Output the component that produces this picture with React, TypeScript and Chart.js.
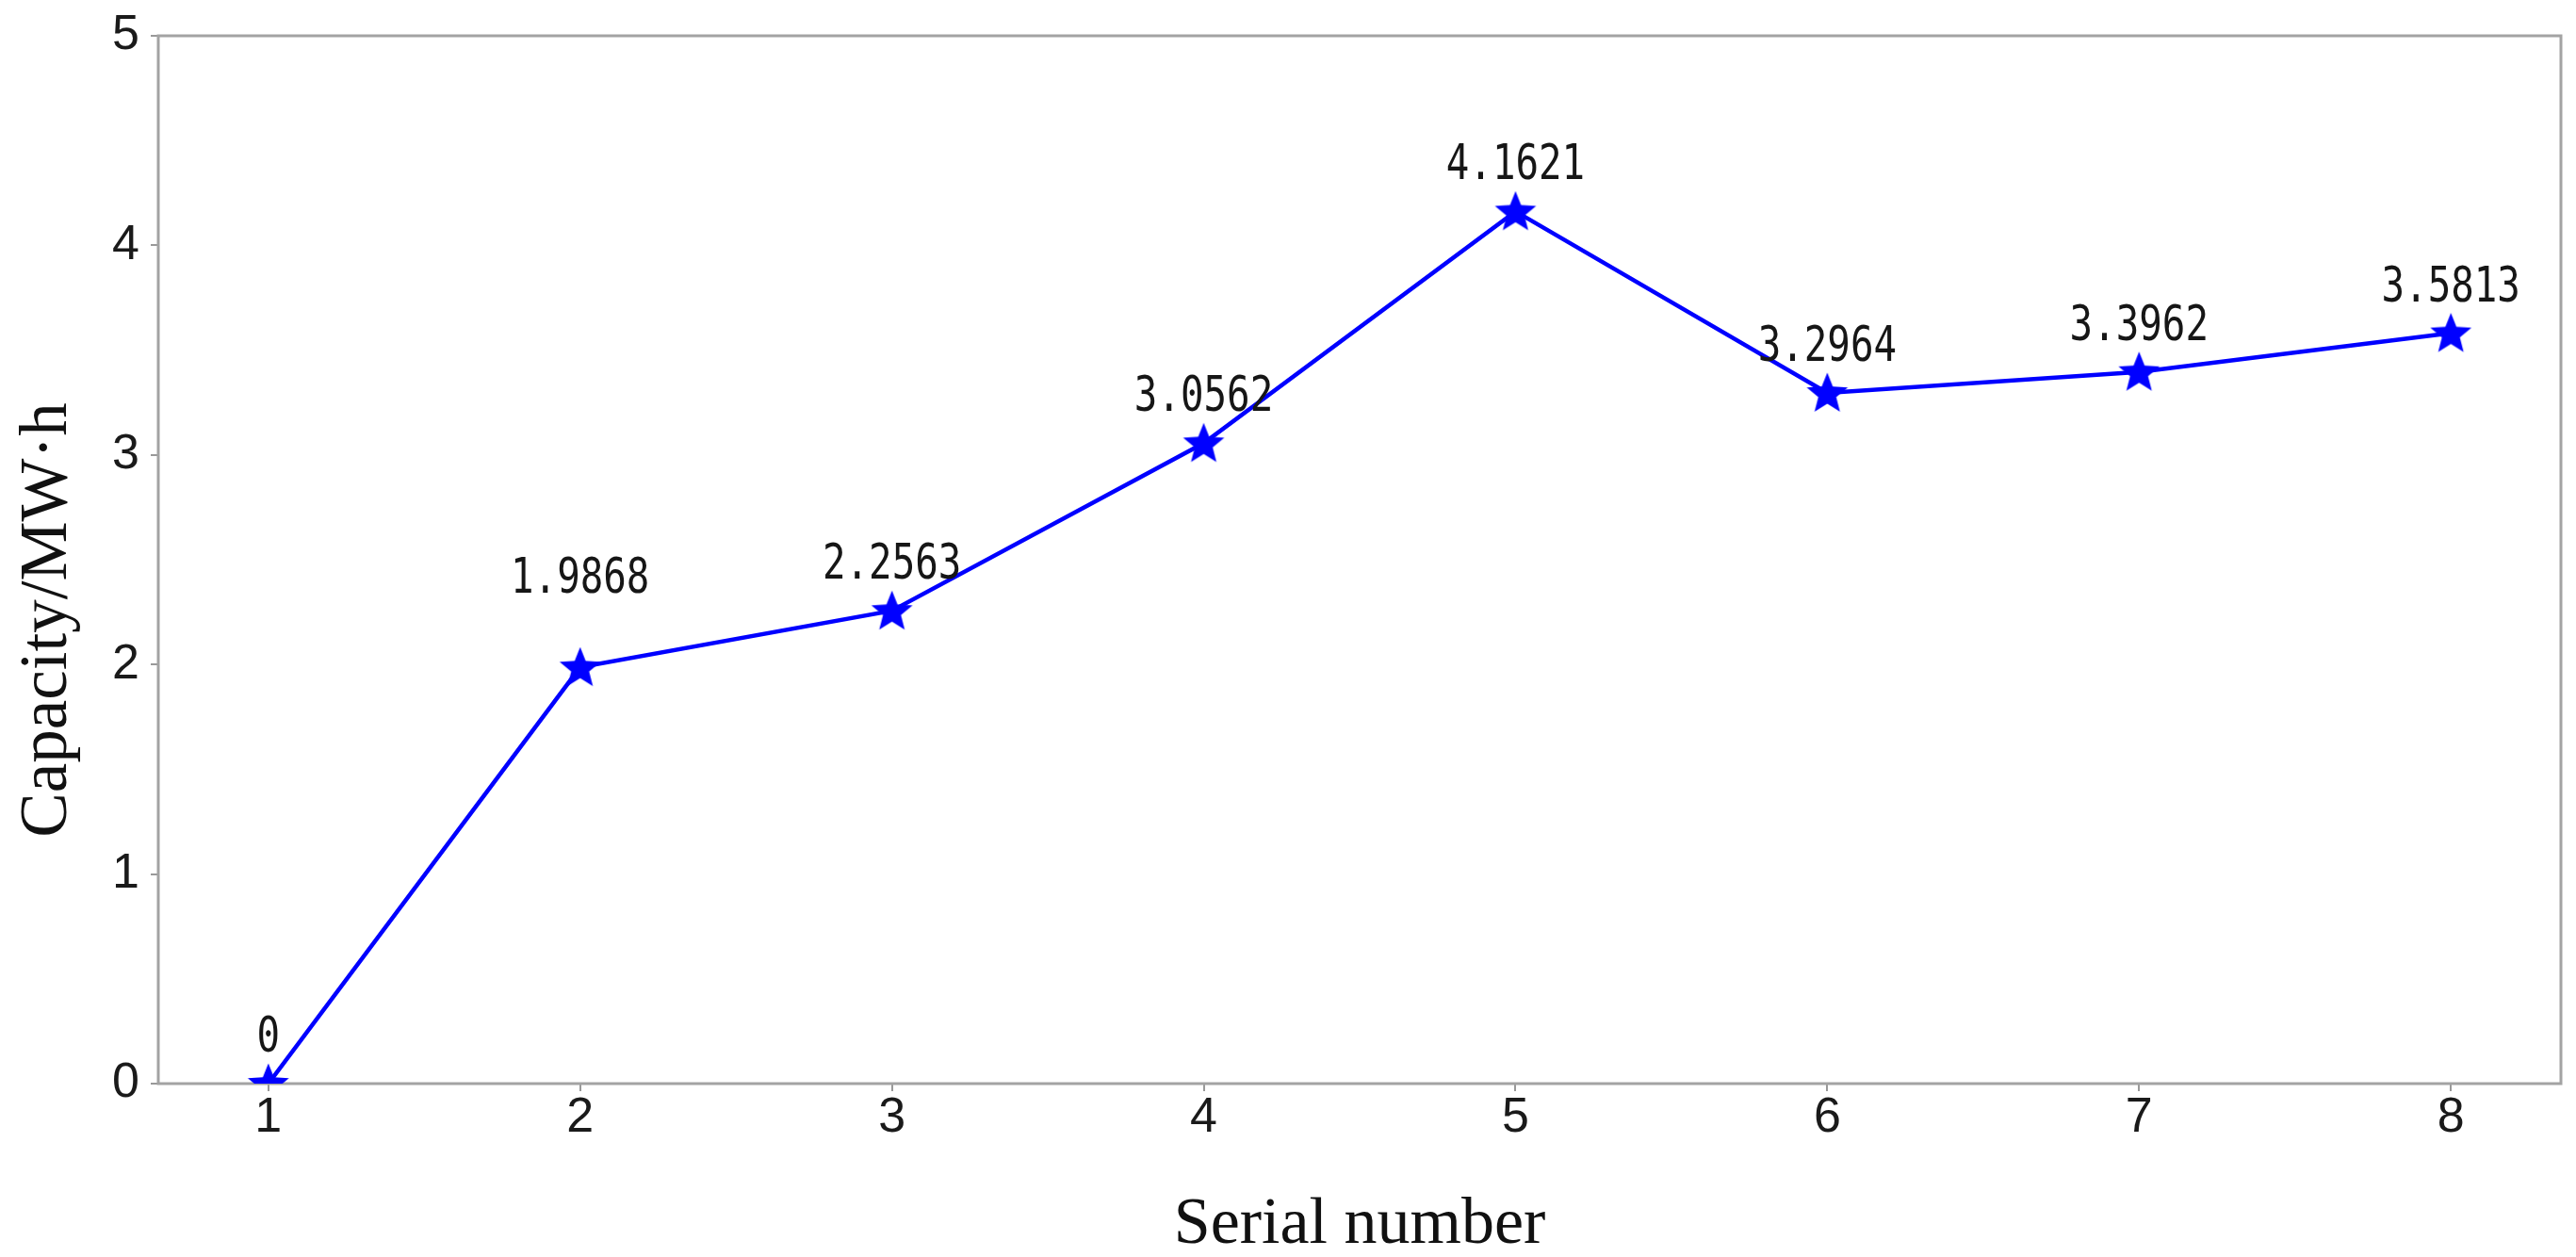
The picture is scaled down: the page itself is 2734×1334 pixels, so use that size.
import React, { useEffect, useRef } from 'react';
import { Chart, registerables } from 'chart.js';

Chart.register(...registerables);

const serialNumbers = [1, 2, 3, 4, 5, 6, 7, 8];
const capacities = [0, 1.9868, 2.2563, 3.0562, 4.1621, 3.2964, 3.3962, 3.5813];
const yTickValues = [0, 1, 2, 3, 4, 5];
const xTitle = 'Serial number';
const yTitle = 'Capacity/MW·h';

function makeStar(R: number, r: number, color: string) {
  const size = Math.ceil(2 * R + 4);
  const c = document.createElement('canvas');
  c.width = size;
  c.height = size;
  const ctx = c.getContext('2d')!;
  ctx.translate(size / 2, size / 2 + R * 0.06);
  ctx.beginPath();
  for (let i = 0; i < 10; i++) {
    const rad = i % 2 === 0 ? R : r;
    const a = -Math.PI / 2 + (i * Math.PI) / 5;
    ctx.lineTo(rad * Math.cos(a), rad * Math.sin(a));
  }
  ctx.closePath();
  ctx.fillStyle = color;
  ctx.fill();
  return c;
}

// extra upward shift (px) of individual value labels, as placed in the original figure
const labelLift: Record<number, number> = { 1: 45 };

const decorPlugin = {
  id: 'decor',
  beforeDatasetsDraw(chart: any) {
    const { ctx, chartArea } = chart;
    ctx.save();
    ctx.strokeStyle = '#a3a3a3';
    ctx.lineWidth = 3;
    ctx.strokeRect(chartArea.left, chartArea.top, chartArea.right - chartArea.left, chartArea.bottom - chartArea.top);
    ctx.restore();
  },
  afterDatasetsDraw(chart: any) {
    const { ctx } = chart;
    const meta = chart.getDatasetMeta(0);
    ctx.save();
    ctx.fillStyle = '#161616';
    ctx.font = '51px "DejaVu Sans Mono"';
    ctx.textAlign = 'center';
    ctx.textBaseline = 'alphabetic';
    meta.data.forEach((p: any, i: number) => {
      ctx.save();
      ctx.translate(p.x, p.y - 34 - (labelLift[i] || 0));
      ctx.scale(0.8, 1);
      ctx.fillText(String(capacities[i]), 0, 0);
      ctx.restore();
    });
    ctx.restore();
  },
  afterDraw(chart: any) {
    const { ctx, chartArea } = chart;
    ctx.save();
    ctx.fillStyle = '#111';
    ctx.textAlign = 'center';
    ctx.textBaseline = 'alphabetic';
    ctx.font = '70px "Liberation Serif"';
    ctx.fillText(xTitle, (chartArea.left + chartArea.right) / 2, 1319);
    ctx.translate(70, 658);
    ctx.rotate(-Math.PI / 2);
    ctx.font = '71px "Liberation Serif"';
    ctx.fillText(yTitle, 0, 0);
    ctx.restore();
  },
};

export default function App() {
  const ref = useRef<HTMLCanvasElement>(null);
  useEffect(() => {
    const star = makeStar(23, 10, '#0000ff');
    const tickFont = { family: '"Liberation Sans", Arial, sans-serif', size: 52, lineHeight: 1 };
    const chart = new Chart(ref.current!, {
      type: 'line',
      data: {
        datasets: [
          {
            data: serialNumbers.map((x, i) => ({ x, y: capacities[i] })),
            borderColor: '#0000ff',
            backgroundColor: '#0000ff',
            borderWidth: 4.5,
            pointStyle: star as any,
            pointRadius: 10,
            pointHoverRadius: 10,
            tension: 0,
            fill: false,
          },
        ],
      },
      options: {
        responsive: false,
        animation: false,
        events: [],
        layout: { padding: { left: 0, top: 38, right: 16, bottom: 0 } },
        plugins: { legend: { display: false }, tooltip: { enabled: false } },
        scales: {
          x: {
            type: 'linear',
            min: 0.647,
            max: 8.353,
            afterBuildTicks: (s: any) => {
              s.ticks = serialNumbers.map((v) => ({ value: v }));
            },
            afterFit: (s: any) => {
              s.height = 184;
            },
            ticks: { font: tickFont, color: '#1a1a1a', padding: 3, autoSkip: false, maxRotation: 0 },
            grid: { drawOnChartArea: false, drawTicks: true, tickLength: 8, color: '#999', lineWidth: 2 },
            border: { display: false },
          },
          y: {
            type: 'linear',
            min: 0,
            max: 5,
            afterBuildTicks: (s: any) => {
              s.ticks = yTickValues.map((v) => ({ value: v }));
            },
            afterFit: (s: any) => {
              s.width = 168;
            },
            ticks: { font: tickFont, color: '#1a1a1a', padding: 12 },
            grid: { drawOnChartArea: false, drawTicks: true, tickLength: 8, color: '#999', lineWidth: 2 },
            border: { display: false },
          },
        },
      },
      plugins: [decorPlugin],
    });
    return () => chart.destroy();
  }, []);
  return (
    <canvas
      ref={ref}
      width={2734}
      height={1334}
      style={{ position: 'absolute', left: 0, top: 0, display: 'block', width: 2734, height: 1334 }}
    />
  );
}
